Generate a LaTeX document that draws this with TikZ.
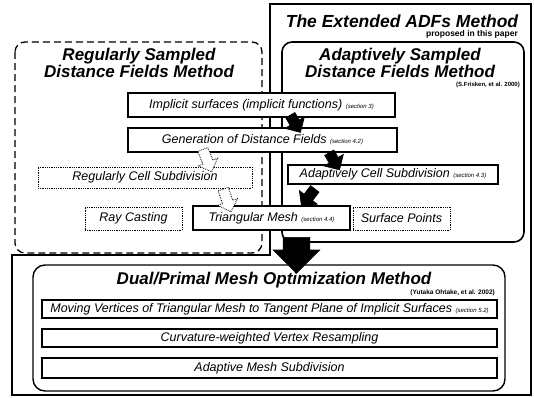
\documentclass[tikz,border=0pt]{standalone}
\usepackage{fontspec}
\setmainfont{Liberation Sans}
\usetikzlibrary{shapes.arrows}
\newcommand{\sect}[1]{{\fontsize{6}{7}\selectfont #1}}
\begin{document}
\begin{tikzpicture}[x=1pt,y=-1pt,
  frame/.style={line width=1.6pt},
  box/.style={draw, line width=1.3pt, fill=white, inner sep=0pt, font=\fontsize{12.5}{14}\selectfont\itshape},
  dbox/.style={draw, densely dotted, line width=0.8pt, fill=white, inner sep=0pt, font=\fontsize{12.5}{14}\selectfont\itshape},
  title/.style={font=\fontsize{17}{17}\selectfont\bfseries\itshape, align=center, inner sep=0pt},
  cite/.style={font=\fontsize{6}{7}\selectfont\bfseries, inner sep=0pt, anchor=east},
  blackarrow/.style={single arrow, draw=black, fill=black, line width=0.6pt, inner xsep=0pt, inner ysep=5pt, single arrow head extend=6pt, minimum height=20pt, sloped, allow upside down},
  whitearrow/.style={single arrow, draw=black, fill=white, densely dotted, line width=0.8pt, inner xsep=0pt, inner ysep=5pt, single arrow head extend=5pt, minimum height=24pt, sloped, allow upside down}
]
\useasboundingbox (0,0) rectangle (534,397);
% frames
\draw[frame] (270,4) -- (531,4) -- (531,395) -- (12,395) -- (12,255) -- (270,255) -- cycle;
\draw[line width=1.3pt, dash pattern=on 7pt off 4pt, rounded corners=10pt] (15,42) rectangle (262,253);
\draw[line width=1.6pt, rounded corners=10pt] (282,42) rectangle (524,242);
\draw[line width=1.4pt, rounded corners=12pt] (33,265) rectangle (505,391);
% titles
\node[title, font=\fontsize{17.5}{17}\selectfont\bfseries\itshape] (extt) at (402,21) {The Extended ADFs Method};
\node[cite, font=\fontsize{8.5}{9}\selectfont\bfseries] (prop) at (518,34) {proposed in this paper};
\node[title] (regt) at (139,63) {Regularly Sampled\\Distance Fields Method};
\node[title] (adft) at (400,63) {Adaptively Sampled\\Distance Fields Method};
\node[cite] (adfc) at (520,85) {(S.Frisken, et al. 2000)};
\node[title] (dualt) at (274,280) {Dual/Primal Mesh Optimization Method};
\node[cite, font=\fontsize{6.5}{7}\selectfont\bfseries] (dualc) at (495,293) {(Yutaka Ohtake, et al. 2002)};
% process nodes
\node[box, minimum width=267pt, minimum height=24pt] (imp) at (261.5,105) {Implicit surfaces (implicit functions) \sect{(section 3)}};
\node[box, minimum width=269pt, minimum height=24pt] (gen) at (262.5,140) {Generation of Distance Fields \sect{(section 4.2)}};
\node[dbox, minimum width=214pt, minimum height=21pt] (rcs) at (145,177.5) {Regularly Cell Subdivision};
\node[box, minimum width=210pt, minimum height=19pt] (acs) at (393,174.5) {Adaptively Cell Subdivision \sect{(section 4.3)}};
\node[dbox, minimum width=97pt, minimum height=23pt] (ray) at (133.5,218.5) {Ray Casting};
\node[box, minimum width=157pt, minimum height=24pt] (tri) at (271.5,218) {Triangular Mesh \sect{(section 4.4)}};
\node[dbox, minimum width=97pt, minimum height=23pt] (sp) at (401.5,218.5) {Surface Points};
\node[box, minimum width=455pt, minimum height=18pt] (mv) at (269.5,309) {Moving Vertices of Triangular Mesh to Tangent Plane of Implicit Surfaces \sect{(section 5.2)}};
\node[box, minimum width=455pt, minimum height=18pt] (cw) at (269.5,338) {Curvature-weighted Vertex Resampling};
\node[box, minimum width=455pt, minimum height=20pt] (am) at (269.5,368) {Adaptive Mesh Subdivision};
% arrows
\path ([xshift=28.5pt,yshift=3pt]imp.south) -- ([xshift=35.5pt,yshift=-1pt]gen.north) node[blackarrow, midway] (a1) {};
\path ([xshift=65.5pt,yshift=2pt]gen.south) -- ([xshift=-55pt,yshift=-3pt]acs.north) node[blackarrow, midway] (a2) {};
\path ([xshift=-75pt]acs.south) -- ([xshift=30pt,yshift=-1pt]tri.north) node[blackarrow, midway, minimum height=22pt] (a3) {};
\path ([xshift=25pt,yshift=2pt]tri.south) -- ([xshift=25pt,yshift=-38pt]tri.south) node[blackarrow, midway, inner ysep=13pt, single arrow head extend=10pt, minimum height=36pt] (a4) {};
\path ([xshift=-60pt,yshift=4pt]gen.south) -- ([xshift=65pt,yshift=-1pt]rcs.north) node[whitearrow, midway] (w1) {};
\path ([xshift=77pt,yshift=3pt]rcs.south) -- ([xshift=-41pt,yshift=-5pt]tri.north) node[whitearrow, midway] (w2) {};
\end{tikzpicture}
\end{document}
